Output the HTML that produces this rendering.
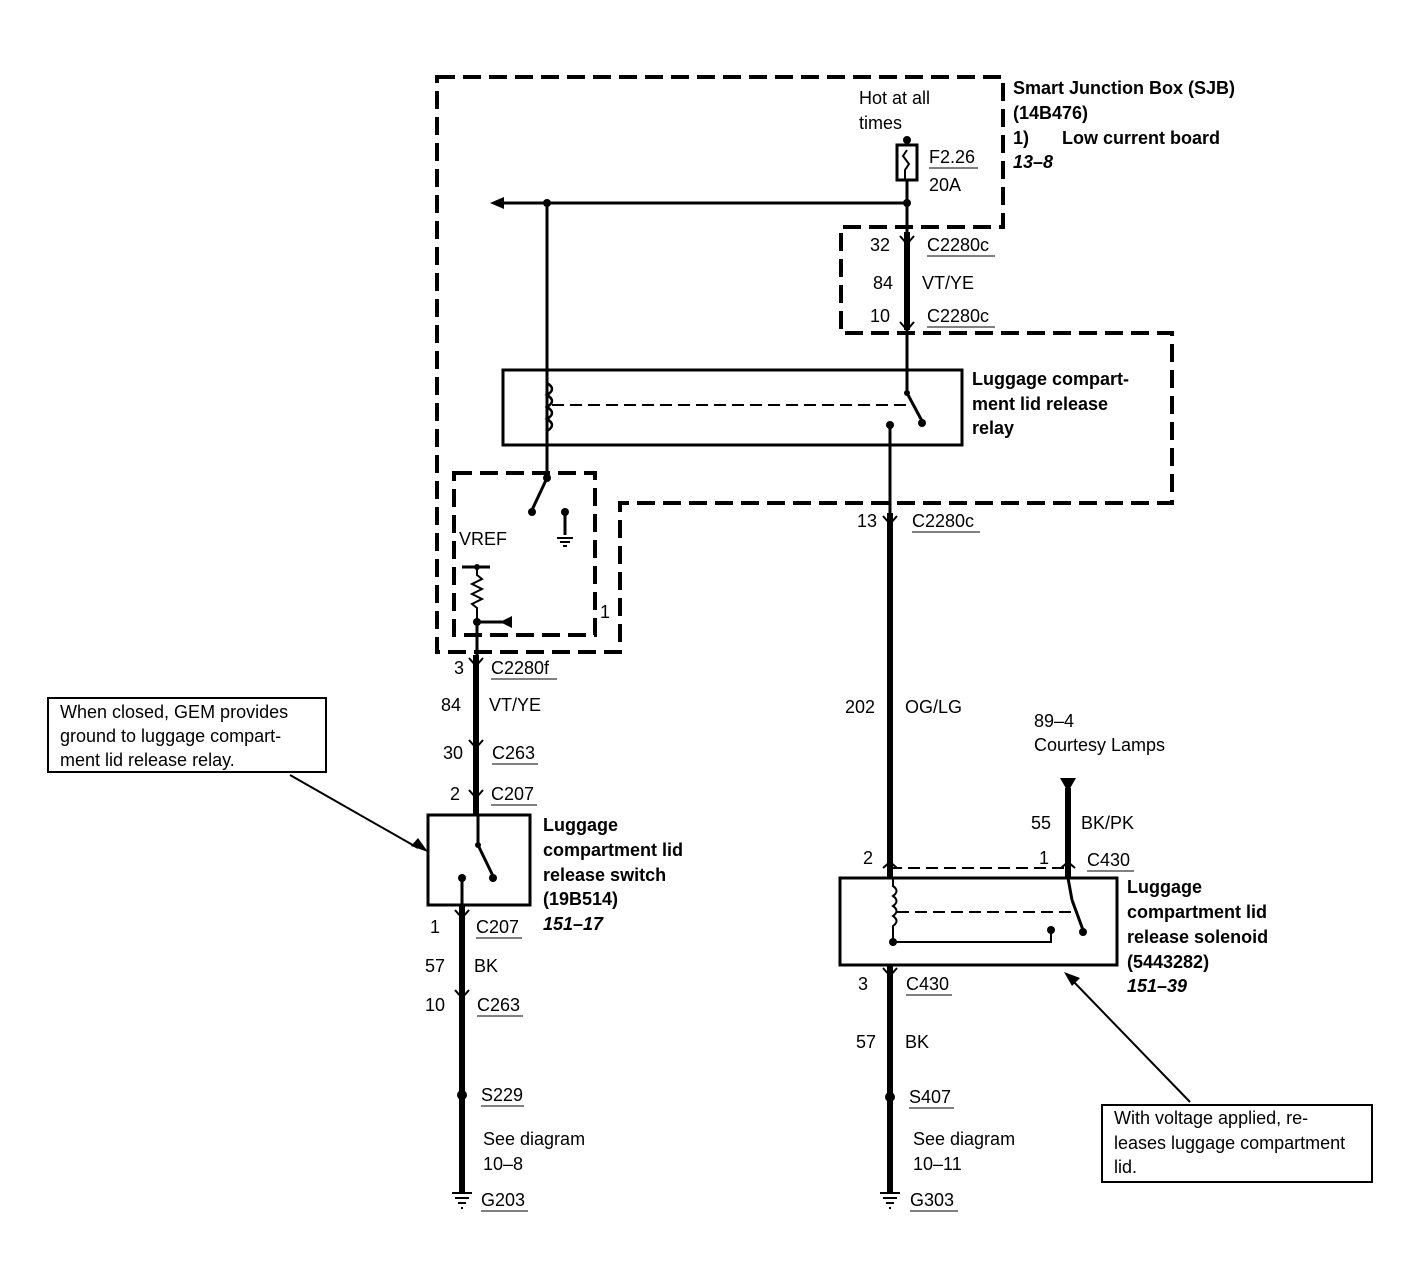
<!DOCTYPE html>
<html><head><meta charset="utf-8"><style>
body{margin:0;background:#fff}
svg{display:block}
text{font-family:"Liberation Sans",Arial,sans-serif;font-size:18px;fill:#000}
.b{font-weight:bold}
.i{font-weight:bold;font-style:italic}
</style></head><body>
<svg width="1418" height="1264" viewBox="0 0 1418 1264" xmlns="http://www.w3.org/2000/svg">
<g fill="none" stroke="#000" stroke-width="4" stroke-dasharray="18,8">
<path d="M437 77 H1003 V227 H841 V333 H1172 V503 H620 V652 H437 Z"/>
<path d="M454 473 H595 V635 H454 Z"/>
</g>
<g stroke="#000" fill="none" stroke-width="3">
<rect x="897" y="145" width="20" height="35"/>
<path d="M907 140 V145 M907 150 l-4 6 l6 8 l-4 6 v10" stroke-width="2"/>
<line x1="907" y1="180" x2="907" y2="395"/>
<line x1="495" y1="203" x2="907" y2="203"/>
<line x1="547" y1="203" x2="547" y2="478"/>
<rect x="503" y="370" width="459" height="75"/>
<path d="M547 383 q10 6 0 12 q10 6 0 12 q10 6 0 12 q10 6 0 12" stroke-width="2.5"/>
<line x1="552" y1="405" x2="912" y2="405" stroke-width="2" stroke-dasharray="12,6"/>
<line x1="907" y1="393" x2="922" y2="421"/>
<line x1="890" y1="425" x2="890" y2="515"/>
<line x1="547" y1="478" x2="532" y2="510"/>
<line x1="565" y1="512" x2="565" y2="535"/>
<line x1="462" y1="567" x2="490" y2="567"/>
<path d="M477 567 v8 l5 4 l-10 5 l10 5 l-10 5 l10 5 l-10 5 l5 4 v18" stroke-width="2"/>
<line x1="477" y1="622" x2="505" y2="622"/>
<line x1="477" y1="622" x2="477" y2="655"/>
<line x1="476" y1="655" x2="476" y2="815" stroke-width="6"/>
<rect x="428" y="815" width="102" height="90"/>
<line x1="478" y1="815" x2="478" y2="845"/>
<line x1="478" y1="845" x2="493" y2="876"/>
<line x1="462" y1="878" x2="462" y2="905"/>
<line x1="462" y1="905" x2="462" y2="1193" stroke-width="6"/>
<line x1="890" y1="513" x2="890" y2="878" stroke-width="6"/>
<line x1="890" y1="868" x2="1068" y2="868" stroke-width="2" stroke-dasharray="12,6"/>
<rect x="840" y="878" width="277" height="87"/>
<path d="M893 878 v8 q7 5 0 10 q7 5 0 10 q7 5 0 10 q7 5 0 10 v14" stroke-width="2"/>
<path d="M893 942 H1051 V930" stroke-width="2"/>
<line x1="897" y1="912" x2="1075" y2="912" stroke-width="2" stroke-dasharray="12,6"/>
<line x1="1068" y1="878" x2="1072" y2="900"/>
<line x1="1072" y1="900" x2="1083" y2="930"/>
<line x1="1068" y1="788" x2="1068" y2="878" stroke-width="6"/>
<line x1="890" y1="965" x2="890" y2="1193" stroke-width="6"/>
<line x1="907" y1="232" x2="907" y2="330" stroke-width="6"/>
<line x1="290" y1="775" x2="418" y2="848" stroke-width="2"/>
<line x1="1190" y1="1102" x2="1072" y2="980" stroke-width="2"/>
<rect x="48" y="698" width="278" height="74" stroke-width="2"/>
<rect x="1102" y="1105" width="270" height="77" stroke-width="2"/>
</g>
<g fill="#000">
<polygon points="490,203 504,197 504,209"/>
<polygon points="500,622 512,616 512,628"/>
<polygon points="1060,778 1076,778 1068,792"/>
<polygon points="428,852 411,846 418,838"/>
<polygon points="1064,972 1080,978 1072,986"/>
<circle cx="907" cy="140" r="4"/><circle cx="907" cy="203" r="4"/><circle cx="547" cy="203" r="4"/>
<circle cx="922" cy="423" r="4"/><circle cx="890" cy="425" r="4"/><circle cx="907" cy="393" r="3"/>
<circle cx="547" cy="478" r="4"/><circle cx="532" cy="512" r="4"/><circle cx="565" cy="512" r="4"/>
<circle cx="477" cy="567" r="3"/><circle cx="477" cy="622" r="4"/>
<circle cx="478" cy="845" r="3"/><circle cx="493" cy="878" r="4"/><circle cx="462" cy="878" r="4"/>
<circle cx="893" cy="942" r="4"/><circle cx="1051" cy="930" r="4"/><circle cx="1083" cy="932" r="4"/>
<circle cx="462" cy="1095" r="5"/><circle cx="890" cy="1097" r="5"/>
<g stroke="#000" stroke-width="2" fill="none">
<path d="M900 236 l7 8 l7 -8 M900 322 l7 8 l7 -8 M883 516 l7 8 l7 -8 M469 658 l7 8 l7 -8 M469 740 l7 8 l7 -8 M469 790 l7 8 l7 -8 M455 910 l7 8 l7 -8 M455 990 l7 8 l7 -8 M883 968 l7 8 l7 -8 M883 868 l7 -6 l7 6 M1061 868 l7 -6 l7 6"/>
<path d="M557 538 h16 M560 542 h10 M563 546 h4"/>
<path d="M452 1193 h20 M455 1198 h14 M458 1203 h8 M461 1208 h2"/>
<path d="M880 1193 h20 M883 1198 h14 M886 1203 h8 M889 1208 h2"/>
</g>
</g>
<text x="859" y="104">Hot at all</text><text x="859" y="129">times</text>
<text x="929" y="163">F2.26</text><line x1="929" y1="168" x2="978" y2="168" stroke="#000"/>
<text x="929" y="191">20A</text>
<text class="b" x="1013" y="94">Smart Junction Box (SJB)</text>
<text class="b" x="1013" y="119">(14B476)</text>
<text class="b" x="1013" y="144">1)</text><text class="b" x="1062" y="144">Low current board</text>
<text class="i" x="1013" y="168">13–8</text>
<text x="870" y="251">32</text><text x="927" y="251">C2280c</text><line x1="927" y1="256" x2="995" y2="256" stroke="#000"/>
<text x="873" y="289">84</text><text x="922" y="289">VT/YE</text>
<text x="870" y="322">10</text><text x="927" y="322">C2280c</text><line x1="927" y1="327" x2="995" y2="327" stroke="#000"/>
<text class="b" x="972" y="385">Luggage compart-</text>
<text class="b" x="972" y="410">ment lid release</text>
<text class="b" x="972" y="434">relay</text>
<text x="857" y="527">13</text><text x="912" y="527">C2280c</text><line x1="912" y1="532" x2="980" y2="532" stroke="#000"/>
<text x="459" y="545">VREF</text><text x="600" y="618">1</text>
<text x="454" y="674">3</text><text x="491" y="674">C2280f</text><line x1="491" y1="679" x2="557" y2="679" stroke="#000"/>
<text x="441" y="711">84</text><text x="489" y="711">VT/YE</text>
<text x="443" y="759">30</text><text x="492" y="759">C263</text><line x1="492" y1="764" x2="538" y2="764" stroke="#000"/>
<text x="450" y="800">2</text><text x="491" y="800">C207</text><line x1="491" y1="805" x2="537" y2="805" stroke="#000"/>
<text x="60" y="718">When closed, GEM provides</text>
<text x="60" y="742">ground to luggage compart-</text>
<text x="60" y="766">ment lid release relay.</text>
<text class="b" x="543" y="831">Luggage</text>
<text class="b" x="543" y="856">compartment lid</text>
<text class="b" x="543" y="881">release switch</text>
<text class="b" x="543" y="905">(19B514)</text>
<text class="i" x="543" y="930">151–17</text>
<text x="430" y="933">1</text><text x="476" y="933">C207</text><line x1="476" y1="938" x2="522" y2="938" stroke="#000"/>
<text x="425" y="972">57</text><text x="474" y="972">BK</text>
<text x="425" y="1011">10</text><text x="477" y="1011">C263</text><line x1="477" y1="1016" x2="523" y2="1016" stroke="#000"/>
<text x="481" y="1101">S229</text><line x1="481" y1="1106" x2="524" y2="1106" stroke="#000"/>
<text x="483" y="1145">See diagram</text><text x="483" y="1170">10–8</text>
<text x="481" y="1206">G203</text><line x1="481" y1="1211" x2="528" y2="1211" stroke="#000"/>
<text x="845" y="713">202</text><text x="905" y="713">OG/LG</text>
<text x="1034" y="727">89–4</text><text x="1034" y="751">Courtesy Lamps</text>
<text x="1031" y="829">55</text><text x="1081" y="829">BK/PK</text>
<text x="863" y="864">2</text><text x="1039" y="864">1</text>
<text x="1087" y="866">C430</text><line x1="1087" y1="871" x2="1134" y2="871" stroke="#000"/>
<text class="b" x="1127" y="893">Luggage</text>
<text class="b" x="1127" y="918">compartment lid</text>
<text class="b" x="1127" y="943">release solenoid</text>
<text class="b" x="1127" y="968">(5443282)</text>
<text class="i" x="1127" y="992">151–39</text>
<text x="858" y="990">3</text><text x="906" y="990">C430</text><line x1="906" y1="995" x2="952" y2="995" stroke="#000"/>
<text x="856" y="1048">57</text><text x="905" y="1048">BK</text>
<text x="909" y="1103">S407</text><line x1="909" y1="1108" x2="954" y2="1108" stroke="#000"/>
<text x="913" y="1145">See diagram</text><text x="913" y="1170">10–11</text>
<text x="910" y="1206">G303</text><line x1="910" y1="1211" x2="958" y2="1211" stroke="#000"/>
<text x="1114" y="1124">With voltage applied, re-</text>
<text x="1114" y="1149">leases luggage compartment</text>
<text x="1114" y="1173">lid.</text>
</svg>
</body></html>
